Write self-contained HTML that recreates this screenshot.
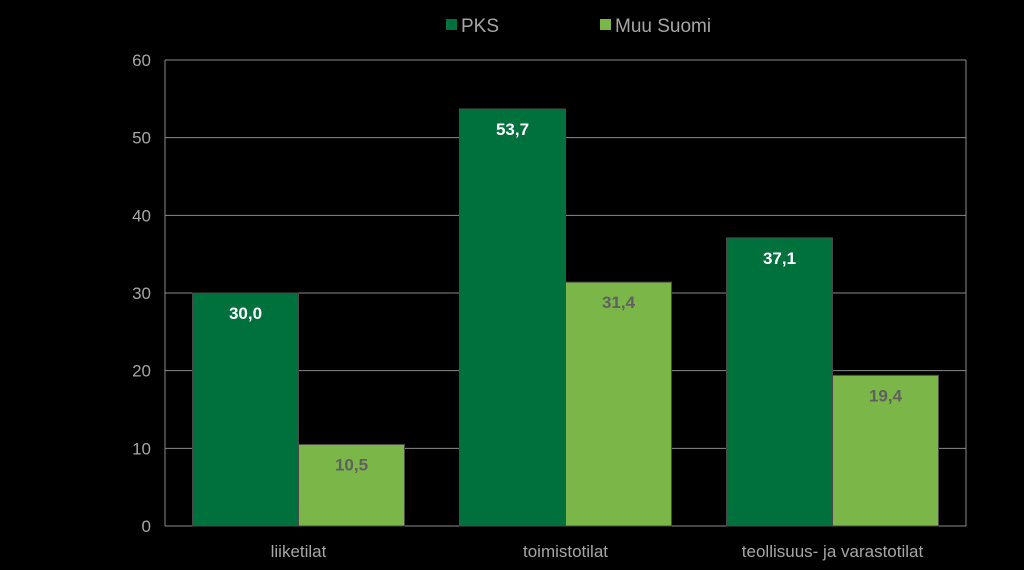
<!DOCTYPE html>
<html><head><meta charset="utf-8"><style>
html,body{margin:0;padding:0;background:#000;width:1024px;height:570px;overflow:hidden}
svg{display:block;font-family:"Liberation Sans",Arial,sans-serif}
</style></head><body>
<svg id="chart" width="1024" height="570" viewBox="0 0 1024 570"></svg>
<script>
const categories = ["liiketilat","toimistotilat","teollisuus- ja varastotilat"];
const seriesNames = ["PKS","Muu Suomi"];
const pksValues = [30.0, 53.7, 37.1];
const muuValues = [10.5, 31.4, 19.4];
const yTicks = [0,10,20,30,40,50,60];

const svg = document.getElementById('chart');
const NS = 'http://www.w3.org/2000/svg';
const L = 165, R = 966, T = 60, B = 526, yMax = 60;
const colors = ["#00703c","#7ab648"];
const labelColors = ["#ffffff","#606060"];
function y(v){ return B - (v / yMax) * (B - T); }
const catW = (R - L) / categories.length;
const barW = 106;
function x(ci, si){ return L + ci * catW + (catW - 2*barW)/2 + si*barW; }
function mk(tag, attrs){ const e = document.createElementNS(NS, tag); for (const k in attrs) e.setAttribute(k, attrs[k]); svg.appendChild(e); return e; }

yTicks.forEach(t => {
  const g = mk('line', {x1:L, x2:R, y1:y(t), y2:y(t), stroke:'#8a8a8a', 'stroke-width':1});
  
  
  const tx = mk('text', {x:L-14, y:y(t)+6, 'text-anchor':'end', fill:'#a6a6a6', 'font-size':17});
  tx.textContent = t;
  
  
});
const ax = mk('line', {x1:L, x2:L, y1:T, y2:B, stroke:'#8a8a8a', 'stroke-width':1});


const rx = mk('line', {x1:R, x2:R, y1:T, y2:B, stroke:'#8a8a8a', 'stroke-width':1});



[pksValues, muuValues].forEach((vals, si) => {
  vals.forEach((v, ci) => {
    const b = mk('rect', {x:x(ci,si), y:y(v), width:barW, height:B - y(v), fill:colors[si], stroke:'#4a4a4a', 'stroke-width':1});
    
    
    const l = mk('text', {x:x(ci,si)+barW/2, y:y(v)+26, 'text-anchor':'middle', fill:labelColors[si], 'font-size':17, 'font-weight':'bold'});
    l.textContent = v.toFixed(1).replace('.', ',');
    
    
  });
});
categories.forEach((c, ci) => {
  const t = mk('text', {x:L + ci*catW + catW/2, y:557, 'text-anchor':'middle', fill:'#a6a6a6', 'font-size':17});
  t.textContent = c;
  
  
});
const legX = [446, 600];
seriesNames.forEach((n, si) => {
  const s = mk('rect', {x:legX[si], y:19, width:11, height:11, fill:colors[si]});
  
  
  const t = mk('text', {x:legX[si]+15, y:32, fill:'#a6a6a6', 'font-size':19});
  t.textContent = n;
  
  
});
</script>
</body></html>
